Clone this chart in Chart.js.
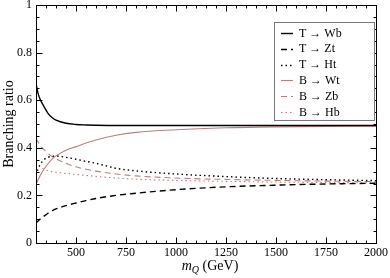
<!DOCTYPE html>
<html><head><meta charset="utf-8">
<script src="https://cdn.jsdelivr.net/npm/chart.js@4/dist/chart.umd.min.js"></script>
<style>html,body{margin:0;padding:0;background:#fff}#wrap{width:390px;height:278px}</style>
</head><body><div id="wrap"><canvas id="c" width="390" height="278"></canvas></div>
<script>
const masses = [300,310,320,340,360,380,400,450,500,550,600,700,800,1000,1250,1500,1750,2000];
const T_Wb = [0.67,0.63,0.605,0.573,0.545,0.527,0.516,0.503,0.498,0.496,0.495,0.494,0.494,0.494,0.494,0.494,0.494,0.494];
const T_Zt = [0.085,0.092,0.1,0.113,0.125,0.135,0.143,0.157,0.168,0.178,0.187,0.2,0.209,0.224,0.236,0.243,0.248,0.251];
const T_Ht = [0.285,0.31,0.328,0.35,0.36,0.364,0.365,0.36,0.352,0.343,0.335,0.314,0.303,0.29,0.279,0.271,0.266,0.262];
const B_Wt = [0.245,0.265,0.282,0.31,0.333,0.352,0.366,0.39,0.405,0.42,0.433,0.453,0.465,0.476,0.484,0.488,0.49,0.491];
const B_Zb = [0.44,0.425,0.412,0.392,0.376,0.364,0.354,0.335,0.32,0.31,0.302,0.29,0.282,0.273,0.267,0.263,0.26,0.258];
const B_Hb = [0.34,0.328,0.32,0.31,0.304,0.3,0.297,0.292,0.288,0.284,0.28,0.273,0.268,0.263,0.259,0.256,0.254,0.253];
const seriesNames = ["T \u2192 Wb","T \u2192 Zt","T \u2192 Ht","B \u2192 Wt","B \u2192 Zb","B \u2192 Hb"];
const xTicks = [500,750,1000,1250,1500,1750,2000];
const yTicks = [0,0.2,0.4,0.6,0.8,1];

const ROSE = 'rgb(190,125,125)';
const FONT = "'Liberation Serif', 'DejaVu Serif', serif";
function ds(label, vals, color, width, dash){
  return {label, data: masses.map((m,i)=>({x:m,y:vals[i]})), borderColor: color, borderWidth: width,
    borderDash: dash, pointRadius: 0, fill:false, cubicInterpolationMode:'monotone'};
}
const datasets = [
  ds(seriesNames[0], T_Wb, '#000', 1.4, []),
  ds(seriesNames[1], T_Zt, '#000', 1.4, [6,4]),
  ds(seriesNames[2], T_Ht, '#000', 1.4, [1.5,3]),
  ds(seriesNames[3], B_Wt, ROSE, 1.1, []),
  ds(seriesNames[4], B_Zb, ROSE, 1.1, [6,4]),
  ds(seriesNames[5], B_Hb, ROSE, 1.1, [1.5,3]),
];

const framePlugin = {
  id:'frame',
  afterDraw(chart){
    const ctx = chart.ctx, a = chart.chartArea, xs = chart.scales.x, ys = chart.scales.y;
    ctx.save();
    ctx.strokeStyle = '#000'; ctx.lineWidth = 1; ctx.setLineDash([]);
    const L = Math.round(a.left)+0.5, R = Math.round(a.right)+0.5, T = Math.round(a.top)+0.5, B = Math.round(a.bottom)+0.5;
    ctx.strokeRect(L, T, R-L, B-T);
    ctx.beginPath();
    for (let v = 350; v <= 1950; v += 50) {
      const major = xTicks.includes(v);
      const len = major ? 6 : 3;
      const px = Math.round(xs.getPixelForValue(v))+0.5;
      ctx.moveTo(px, B); ctx.lineTo(px, B-len);
      ctx.moveTo(px, T); ctx.lineTo(px, T+len);
    }
    for (let k = 1; k < 20; k++) {
      const v = k*0.05;
      const major = k % 4 === 0;
      const len = major ? 6 : 3;
      const py = Math.round(ys.getPixelForValue(v))+0.5;
      ctx.moveTo(L, py); ctx.lineTo(L+len, py);
      ctx.moveTo(R, py); ctx.lineTo(R-len, py);
    }
    ctx.stroke();

    // legend
    const bx = 274.5, by = 22.5, bw = 100, bh = 98;
    ctx.fillStyle = '#fff'; ctx.fillRect(bx, by, bw, bh);
    ctx.strokeStyle = '#777'; ctx.lineWidth = 1; ctx.strokeRect(bx, by, bw, bh);
    ctx.font = "12px " + FONT; ctx.textBaseline = 'middle'; ctx.textAlign = 'left';
    chart.data.datasets.forEach((d, i) => {
      const y = 33 + i*15.8;
      ctx.strokeStyle = d.borderColor; ctx.lineWidth = d.borderWidth; ctx.setLineDash(d.borderDash);
      ctx.beginPath(); ctx.moveTo(281, Math.round(y)+0.5); ctx.lineTo(293, Math.round(y)+0.5); ctx.stroke();
      ctx.setLineDash([]);
      ctx.fillStyle = '#000'; ctx.fillText(d.label, 299, y+0.5);
    });

    // y title
    ctx.save();
    ctx.translate(13, (a.top + a.bottom)/2);
    ctx.rotate(-Math.PI/2);
    ctx.font = "14px " + FONT; ctx.textAlign = 'center'; ctx.textBaseline = 'alphabetic';
    ctx.fillStyle = '#000';
    ctx.fillText('Branching ratio', 0, 0);
    ctx.restore();

    // x title: m_Q (GeV)
    const cx = (a.left + a.right)/2;
    const f1 = "italic 14px " + FONT, f2 = "italic 10px " + FONT, f3 = "14px " + FONT;
    ctx.font = f1; const w1 = ctx.measureText('m').width;
    ctx.font = f2; const w2 = ctx.measureText('Q').width;
    ctx.font = f3; const w3 = ctx.measureText(' (GeV)').width;
    let x0 = cx - (w1+w2+w3)/2 + 4; const yb = 270;
    ctx.textAlign = 'left'; ctx.textBaseline = 'alphabetic'; ctx.fillStyle = '#000';
    ctx.font = f1; ctx.fillText('m', x0, yb); x0 += w1;
    ctx.font = f2; ctx.fillText('Q', x0, yb+3); x0 += w2;
    ctx.font = f3; ctx.fillText(' (GeV)', x0, yb);
    ctx.restore();
  }
};

new Chart(document.getElementById('c'), {
  type:'line',
  data:{datasets},
  options:{
    responsive:false, animation:false, devicePixelRatio:1,
    layout:{padding:{left:0,right:14,top:5,bottom:0}},
    plugins:{legend:{display:false}, tooltip:{enabled:false}},
    scales:{
      x:{type:'linear', min:300, max:2000,
        afterBuildTicks(s){ s.ticks = xTicks.map(v=>({value:v})); },
        afterFit(s){ s.height = 35; s.paddingLeft = 0; s.paddingRight = 0; },
        grid:{display:false, drawTicks:false}, border:{display:false},
        ticks:{padding:3, color:'#000', font:{family:FONT, size:12}, maxRotation:0, autoSkip:false,
          callback:(v)=>String(v)}},
      y:{type:'linear', min:0, max:1,
        afterBuildTicks(s){ s.ticks = yTicks.map(v=>({value:v})); },
        afterFit(s){ s.width = 36; s.paddingTop = 0; s.paddingBottom = 0; },
        grid:{display:false, drawTicks:false}, border:{display:false},
        ticks:{padding:4, color:'#000', font:{family:FONT, size:12}, autoSkip:false,
          callback:(v)=> (v===0||v===1) ? String(v) : v.toFixed(1)}}
    }
  },
  plugins:[framePlugin]
});
</script></body></html>
